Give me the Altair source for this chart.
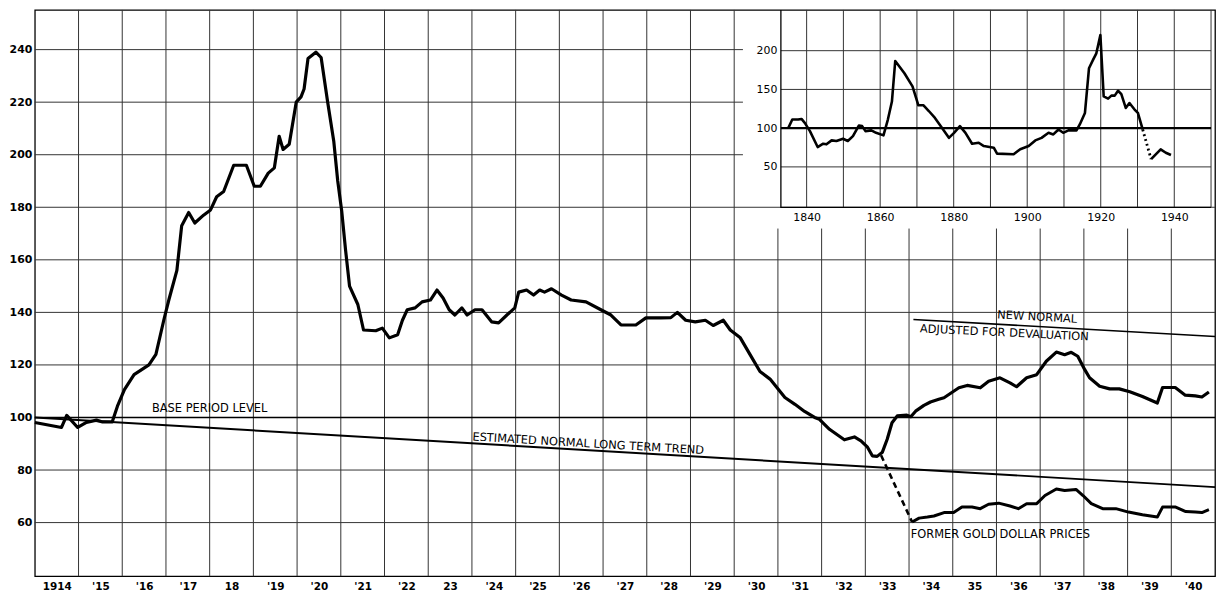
import json
import altair as alt
import pandas as pd

# ---------------- data ----------------
main_years = [1914.00, 1914.61, 1914.73, 1914.98, 1915.18, 1915.41, 1915.55, 1915.77, 1915.89, 1916.05,
              1916.27, 1916.61, 1916.77, 1916.95, 1917.07, 1917.25, 1917.36, 1917.52, 1917.66, 1917.86,
              1918.02, 1918.16, 1918.32, 1918.55, 1918.84, 1919.02, 1919.16, 1919.34, 1919.48, 1919.59,
              1919.68, 1919.82, 1919.98, 1920.09, 1920.16, 1920.25, 1920.43, 1920.55, 1920.70, 1920.84,
              1920.93, 1921.02, 1921.11, 1921.20, 1921.39, 1921.52, 1921.80, 1921.95, 1922.11, 1922.30,
              1922.41, 1922.52, 1922.70, 1922.86, 1923.05, 1923.20, 1923.34, 1923.48, 1923.61, 1923.77,
              1923.89, 1924.07, 1924.23, 1924.45, 1924.61, 1924.80, 1924.98, 1925.07, 1925.25, 1925.41,
              1925.55, 1925.66, 1925.82, 1926.05, 1926.27, 1926.61, 1926.95, 1927.18, 1927.41, 1927.75,
              1927.98, 1928.32, 1928.55, 1928.70, 1928.89, 1929.11, 1929.34, 1929.52, 1929.75, 1929.91,
              1930.14, 1930.36, 1930.59, 1930.82, 1931.16, 1931.39, 1931.61, 1931.84, 1931.95, 1932.18,
              1932.52, 1932.75, 1932.90, 1933.05, 1933.16, 1933.27, 1933.39, 1933.50, 1933.61, 1933.73,
              1933.95, 1934.04, 1934.15, 1934.34, 1934.49, 1934.68, 1934.80, 1935.14, 1935.33, 1935.63,
              1935.82, 1936.08, 1936.31, 1936.46, 1936.69, 1936.92, 1937.14, 1937.37, 1937.56, 1937.71,
              1937.86, 1938.02, 1938.13, 1938.36, 1938.59, 1938.81, 1939.05, 1939.34, 1939.68, 1939.80,
              1940.09, 1940.32, 1940.55, 1940.70, 1940.86]
main_values = [98.1, 96.2, 100.8, 96.2, 98.1, 99.0, 98.3, 98.3, 104.3, 110.6,
               116.3, 120.0, 124.0, 137.0, 145.0, 156.0, 173.0, 178.0, 174.0, 177.0,
               179.0, 184.0, 186.0, 196.0, 196.0, 188.0, 188.0, 193.0, 195.0, 207.0,
               202.0, 204.0, 220.0, 222.0, 225.0, 236.6, 239.0, 237.0, 220.0, 205.0,
               190.0, 178.7, 163.6, 150.0, 143.0, 133.3, 133.0, 134.0, 130.3, 131.5,
               137.0, 141.0, 141.7, 144.0, 144.7, 148.5, 145.5, 141.0, 139.0, 141.7,
               139.0, 141.0, 141.0, 136.4, 136.0, 139.0, 141.7, 147.7, 148.5, 146.6,
               148.5, 147.7, 149.0, 146.6, 144.7, 144.0, 141.0, 139.0, 135.2, 135.2,
               137.9, 137.9, 138.0, 140.0, 137.0, 136.4, 137.0, 135.0, 137.0, 133.3,
               130.3, 124.0, 117.5, 114.6, 107.6, 105.0, 102.3, 100.0, 99.3, 95.5,
               91.5, 92.6, 91.1, 88.7, 85.4, 85.2, 86.8, 91.7, 98.0, 100.6,
               100.9, 100.3, 102.4, 104.6, 105.9, 106.9, 107.5, 111.3, 112.2, 111.3,
               113.8, 115.1, 113.2, 111.7, 115.1, 116.3, 121.4, 124.9, 123.9, 124.8,
               123.3, 118.2, 115.1, 111.9, 110.9, 110.9, 109.8, 108.0, 105.5, 111.4,
               111.4, 108.5, 108.2, 107.8, 109.7]

gold_years = [1934.07, 1934.23, 1934.42, 1934.57, 1934.80, 1935.02, 1935.21, 1935.44, 1935.63, 1935.82,
              1936.05, 1936.31, 1936.50, 1936.69, 1936.92, 1937.11, 1937.37, 1937.56, 1937.82, 1937.98,
              1938.17, 1938.43, 1938.73, 1939.02, 1939.34, 1939.68, 1939.80, 1940.10, 1940.33, 1940.55,
              1940.70, 1940.86]
gold_values = [60.2, 61.7, 62.1, 62.5, 63.8, 63.8, 65.9, 65.9, 65.3, 67.0,
               67.4, 66.3, 65.3, 67.2, 67.2, 70.3, 72.8, 72.2, 72.6, 70.3,
               67.2, 65.3, 65.3, 64.0, 63.0, 62.1, 65.9, 65.9, 64.2, 64.0,
               63.8, 64.9]

dash_years = [1933.36, 1934.07]
dash_values = [85.6, 60.2]

trend_years = [1914.0, 1941.0]
trend_values = [100.0, 73.5]

newnormal_years = [1934.1, 1941.0]
newnormal_values = [137.3, 130.8]

base_years = [1914.0, 1941.0]
base_values = [100.0, 100.0]

inset_years = [1835.0, 1836.1, 1837.7, 1838.6, 1839.5, 1840.9, 1843.0, 1844.5, 1845.4, 1846.8,
               1848.1, 1849.9, 1851.2, 1852.6, 1854.2, 1855.1, 1856.0, 1857.6, 1858.9, 1860.9,
               1862.1, 1863.2, 1864.1, 1866.6, 1868.8, 1870.4, 1871.8, 1873.3, 1874.9, 1876.5,
               1878.7, 1880.1, 1881.7, 1883.2, 1885.0, 1886.8, 1888.2, 1890.9, 1891.8, 1896.3,
               1898.1, 1900.4, 1902.2, 1903.9, 1905.8, 1907.1, 1908.5, 1909.8, 1911.2, 1913.4,
               1914.3, 1915.7, 1916.8, 1917.9, 1918.8, 1919.9, 1920.8, 1922.0, 1922.9, 1923.8,
               1924.7, 1925.6, 1926.8, 1927.8, 1929.2, 1930.1, 1931.4]
inset_values = [100.0, 111.1, 111.1, 111.9, 106.8, 96.2, 75.6, 79.9, 79.1, 84.2,
                83.4, 86.3, 83.4, 89.7, 103.4, 102.6, 96.2, 97.1, 94.0, 90.7,
                111.1, 134.3, 186.7, 170.9, 153.9, 129.5, 129.5, 121.8, 113.2, 102.6,
                87.5, 94.0, 102.6, 94.0, 79.9, 81.2, 76.9, 74.8, 67.1, 66.3,
                72.7, 76.9, 84.2, 87.5, 94.0, 91.9, 98.3, 94.0, 97.1, 97.1,
                104.8, 119.6, 177.3, 188.1, 196.6, 220.2, 141.0, 138.1, 142.0, 142.0,
                148.3, 143.9, 126.1, 132.4, 124.0, 119.6, 98.3]
inset_dot_years = [1931.4, 1933.7]
inset_dot_values = [98.3, 59.9]
inset_tail_years = [1933.7, 1936.3, 1937.7, 1939.1]
inset_tail_values = [59.9, 72.7, 68.3, 65.4]

x_tick_years = list(range(1914, 1941))
x_labels = ["1914", "'15", "'16", "'17", "18", "'19", "'20", "'21", "'22", "23", "'24", "'25", "'26",
            "'27", "'28", "'29", "'30", "'31", "'32", "'33", "'34", "35", "'36", "'37", "'38", "'39", "'40"]
y_ticks = [60, 80, 100, 120, 140, 160, 180, 200, 220, 240]

inset_x_labels = [1840, 1860, 1880, 1900, 1920, 1940]
inset_x_grid = [1840, 1850, 1860, 1870, 1880, 1890, 1900, 1910, 1920, 1930, 1940, 1950]
inset_y_ticks = [50, 100, 150, 200]

# ---------------- layout / style ----------------
W, H = 1188, 570
FONT = "DejaVu Sans"
GRID = "#333333"

X0, X1 = 1914, 1941
Y0, Y1 = 39.6, 255.1
xs = alt.Scale(domain=[X0, X1], nice=False, zero=False)
ys = alt.Scale(domain=[Y0, Y1], nice=False, zero=False)

# area of the main chart that the inset panel occupies (main-chart units)
PANEL_LEFT, PANEL_BOTTOM = 1930.2, 171.9

IX0, IX1 = 1833, 1950
IY0, IY1 = -2.2, 252.6
INSET_BOTTOM_PX = 198.7
ixs = alt.Scale(domain=[IX0, IX1], range=[751, 1184], nice=False, zero=False)
iys = alt.Scale(domain=[IY0, IY1], range=[INSET_BOTTOM_PX, 0], nice=False, zero=False)


def df_xy(xv, yv):
    return pd.DataFrame({"year": xv, "value": yv, "idx": list(range(len(xv)))})


label_expr = "[" + ",".join(json.dumps(s) for s in x_labels) + "][datum.value - 1914]"

x_axis = alt.Axis(values=x_tick_years, labelExpr=label_expr, grid=False, ticks=False,
                  domain=False, labelOffset=22, labelPadding=5, labelFlush=False,
                  labelOverlap=False, labelFont=FONT, labelFontSize=10.5,
                  labelFontWeight="bold", labelColor="black", title=None, orient="bottom")
y_axis = alt.Axis(values=y_ticks, grid=False, ticks=False, domain=False, labelPadding=3,
                  labelFont=FONT, labelFontSize=11, labelFontWeight="bold",
                  labelColor="black", format="d", title=None, orient="left")

MX = lambda f: alt.X(f, scale=xs, axis=x_axis)
MY = lambda f: alt.Y(f, scale=ys, axis=y_axis)

# main grid, kept out of the inset panel
vg_years = x_tick_years[1:]
vgrid_main = pd.DataFrame({
    "gx": vg_years,
    "lo": [Y0] * len(vg_years),
    "hi": [Y1 if g < PANEL_LEFT else PANEL_BOTTOM for g in vg_years],
})
hgrid_main = pd.DataFrame({
    "gy": y_ticks,
    "lo": [X0] * len(y_ticks),
    "hi": [X1 if g < PANEL_BOTTOM + 10 else PANEL_LEFT for g in y_ticks],
})
main_vgrid = alt.Chart(vgrid_main).mark_rule(color=GRID, strokeWidth=1).encode(
    x=MX("gx:Q"), y=MY("lo:Q"), y2="hi:Q")
main_hgrid = alt.Chart(hgrid_main).mark_rule(color=GRID, strokeWidth=1).encode(
    y=MY("gy:Q"), x=MX("lo:Q"), x2="hi:Q")


def main_line(xv, yv, width=3.0, dash=None):
    kw = dict(color="black", strokeWidth=width, strokeJoin="round", strokeCap="butt")
    if dash:
        kw["strokeDash"] = dash
    return alt.Chart(df_xy(xv, yv)).mark_line(**kw).encode(
        x=MX("year:Q"), y=MY("value:Q"), order="idx:Q")


def main_text(txt, x, y, angle=0, size=11.5):
    return alt.Chart(pd.DataFrame({"t": [txt], "tx": [x], "ty": [y]})).mark_text(
        font=FONT, fontSize=size, color="black", angle=angle, align="center", baseline="middle"
    ).encode(x=MX("tx:Q"), y=MY("ty:Q"), text="t:N")


main = alt.layer(
    main_vgrid,
    main_hgrid,
    main_line(base_years, base_values, width=1.3),
    main_line(trend_years, trend_values, width=2.0),
    main_line(newnormal_years, newnormal_values, width=1.6),
    main_line(main_years, main_values, width=3.2),
    main_line(dash_years, dash_values, width=2.6, dash=[6, 4]),
    main_line(gold_years, gold_values, width=3.0),
    main_text("BASE PERIOD LEVEL", 1918.0, 103.3),
    main_text("ESTIMATED NORMAL LONG TERM TREND", 1926.66, 89.8, angle=3.4),
    main_text("NEW NORMAL", 1936.93, 138.0, angle=3.2),
    main_text("ADJUSTED FOR DEVALUATION", 1936.18, 132.0, angle=2.8),
    main_text("FORMER GOLD DOLLAR PRICES", 1936.09, 55.1),
)

# ---------------- inset ----------------
ix_axis = alt.Axis(values=inset_x_labels, grid=False, ticks=False, domain=False, orient="bottom",
                   offset=INSET_BOTTOM_PX - H, labelPadding=4, labelFlush=False,
                   labelOverlap=False, labelFont=FONT, labelFontSize=11, labelColor="black",
                   format="d", title=None)
iy_axis = alt.Axis(values=inset_y_ticks, grid=False, ticks=False, domain=False, orient="left",
                   offset=-751, labelPadding=4, labelFont=FONT, labelFontSize=11,
                   labelColor="black", format="d", title=None)

IX = lambda f: alt.X(f, scale=ixs, axis=ix_axis)
IY = lambda f: alt.Y(f, scale=iys, axis=iy_axis)


def seg_chart(gx, gy, color=GRID, width=1.0):
    d = pd.DataFrame({"gx": gx, "gy": gy, "o": list(range(len(gx)))})
    return alt.Chart(d).mark_line(color=color, strokeWidth=width).encode(
        x=IX("gx:Q"), y=IY("gy:Q"), order="o:Q")


inset_grid = [seg_chart([g, g], [IY0, IY1]) for g in inset_x_grid]
inset_grid += [seg_chart([IX0, IX1], [g, g]) for g in inset_y_ticks if g != 100]
frame_lines = seg_chart([IX0, IX0, IX1], [IY1, IY0, IY0], color="black", width=1.3)
line100 = seg_chart([IX0, IX1], [100, 100], color="black", width=2.2)


def inset_line(xv, yv, dash=None, width=2.6):
    kw = dict(color="black", strokeWidth=width, strokeJoin="round")
    if dash:
        kw["strokeDash"] = dash
    return alt.Chart(df_xy(xv, yv)).mark_line(**kw).encode(
        x=IX("year:Q"), y=IY("value:Q"), order="idx:Q")


inset = alt.layer(
    *inset_grid, frame_lines, line100,
    inset_line(inset_years, inset_values),
    inset_line(inset_dot_years, inset_dot_values, dash=[2, 3], width=2.8),
    inset_line(inset_tail_years, inset_tail_values),
)

chart = (
    alt.layer(main, inset)
    .resolve_scale(x="independent", y="independent")
    .properties(
        width=W, height=H,
        autosize=alt.AutoSizeParams(type="none"),
        padding={"left": 27, "top": 0, "right": 3, "bottom": 20},
        background="white",
    )
    .configure_view(stroke="black", strokeWidth=1.3)
)

chart.save("out.html", embed_options={"renderer": "svg", "actions": False})
